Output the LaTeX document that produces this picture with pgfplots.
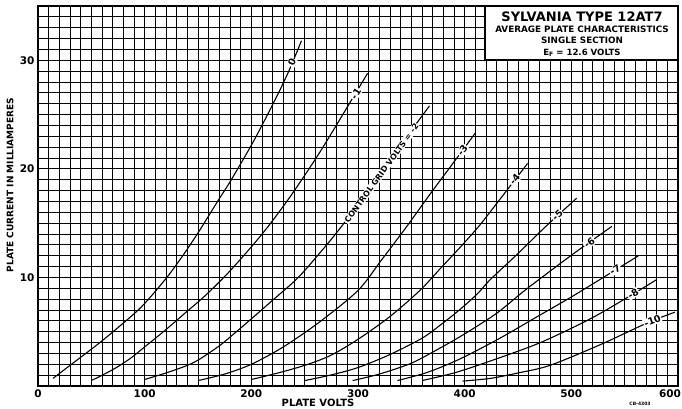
\documentclass[border=0pt]{standalone}
\usepackage{fontspec}
\setmainfont{DejaVu Sans}
\usepackage{pgfplots}
\pgfplotsset{compat=1.18}
\begin{document}
\begin{tikzpicture}
\begin{axis}[
 scale only axis, width=640pt, height=380pt,
 xmin=0,xmax=600,ymin=0,ymax=35,
 xtick={0,100,200,300,400,500,600}, ytick={10,20,30},
 xticklabels={0,100,200,300,400,500,{\makebox[0pt][r]{600\kern-3pt}}},
 minor xtick={0,10,...,600}, minor ytick={0,1,...,35},
 grid=both,
 major grid style={black,line width=0.85pt},
 minor grid style={black,line width=0.85pt},
 major tick length=0pt, minor tick length=0pt,
 axis line style={black,line width=1.2pt},
 tick label style={font=\fontsize{10.5}{11}\selectfont\bfseries},
 /pgf/number format/assume math mode=true,
 /pgf/number format/1000 sep={},
 clip=false,
]
\coordinate (bl) at (rel axis cs:0,0);
% Eg = 0
\addplot[black, line width=1.1pt, smooth] coordinates {(14,0.7)(30,1.9)(58,4.0)(86,6.3)(100,7.6)(120,9.9)(135,11.9)(150,14.1)(169,17.1)(180,18.8)(199,22.0)(211,24.2)(225,26.9)(236,29.2)(247,31.8)};
% Eg = -1
\addplot[black, line width=1.1pt, smooth] coordinates {(50,0.5)(70,1.5)(86,2.5)(100,3.6)(120,5.2)(140,6.9)(152,7.9)(164,9.0)(180,10.6)(199,12.7)(215,14.6)(234,17.1)(250,19.4)(264,21.5)(279,23.9)(290,25.7)(309,28.8)};
% Eg = -2
\addplot[black, line width=1.1pt, smooth] coordinates {(100,0.6)(120,1.2)(140,1.9)(152,2.5)(170,3.7)(180,4.5)(199,6.1)(220,7.9)(243,9.9)(262,12.0)(283,14.5)(310,18.1)(343,22.6)(367,25.8)};
% Eg = -3
\addplot[black, line width=1.1pt, smooth] coordinates {(150,0.5)(175,1.1)(200,2.0)(230,3.6)(264,5.9)(300,8.8)(322,11.6)(345,14.6)(370,18.0)(395,21.3)(410,23.3)};
% Eg = -4
\addplot[black, line width=1.1pt, smooth] coordinates {(200,0.6)(225,1.2)(250,1.9)(274,2.8)(300,4.3)(330,6.4)(358,8.8)(377,10.8)(396,12.8)(414,14.8)(437,17.7)(459,20.5)};
% Eg = -5
\addplot[black, line width=1.1pt, smooth] coordinates {(250,0.5)(274,1.0)(300,1.7)(330,2.9)(360,4.4)(377,5.6)(395,7.0)(412,8.5)(424,9.8)(450,12.2)(475,14.6)(505,17.3)};
% Eg = -6
\addplot[black, line width=1.1pt, smooth] coordinates {(295,0.5)(320,1.1)(350,2.1)(377,3.5)(400,4.8)(430,6.7)(455,8.7)(475,10.2)(505,12.4)(538,14.7)};
% Eg = -7
\addplot[black, line width=1.1pt, smooth] coordinates {(337,0.5)(360,1.1)(377,1.7)(400,2.7)(433,4.4)(470,6.5)(500,8.2)(530,10.0)(563,12.0)};
% Eg = -8
\addplot[black, line width=1.1pt, smooth] coordinates {(360,0.5)(390,1.2)(424,2.3)(471,4.0)(518,6.2)(555,8.3)(580,9.8)};
% Eg = -10
\addplot[black, line width=1.1pt, smooth] coordinates {(398,0.45)(424,0.7)(450,1.2)(480,1.9)(527,3.8)(571,5.8)(597,6.8)};

\tikzset{cl/.style={fill=white, inner sep=0.8pt, font=\fontsize{9.5}{9.5}\selectfont\bfseries}}
\node[cl, rotate=65] at (axis cs:238,29.8) {0};
\node[cl, rotate=57] at (axis cs:298,26.9) {-1};
\node[cl, rotate=54, font=\fontsize{8}{8}\selectfont\bfseries] at (axis cs:322,19.6) {CONTROL GRID VOLTS = -2};
\node[cl, rotate=53] at (axis cs:398,21.7) {-3};
\node[cl, rotate=51] at (axis cs:447,19.0) {-4};
\node[cl, rotate=43] at (axis cs:487,15.7) {-5};
\node[cl, rotate=36] at (axis cs:517,13.2) {-6};
\node[cl, rotate=32] at (axis cs:541,10.7) {-7};
\node[cl, rotate=31] at (axis cs:558,8.5) {-8};
\node[cl, rotate=21] at (axis cs:576,6.0) {-10};

\draw[fill=white, line width=1.2pt] (axis cs:419,30.1) rectangle (axis cs:600,35);
\node[font=\fontsize{13}{13}\selectfont\bfseries] at (axis cs:510,34.0) {SYLVANIA TYPE 12AT7};
\node[font=\fontsize{8.8}{9}\selectfont\bfseries] at (axis cs:510,32.85) {AVERAGE PLATE CHARACTERISTICS};
\node[font=\fontsize{8.8}{9}\selectfont\bfseries] at (axis cs:510,31.85) {SINGLE SECTION};
\node[font=\fontsize{8.6}{9}\selectfont\bfseries] at (axis cs:510,30.7) {E\raisebox{-0.8pt}{\fontsize{6}{6}\selectfont F} = 12.6 VOLTS};
\end{axis}
\node[rotate=90, font=\fontsize{9}{9}\selectfont\bfseries] at ([shift={(-28pt,201pt)}]bl) {PLATE CURRENT IN MILLIAMPERES};
\node[font=\fontsize{10}{10}\selectfont\bfseries] at ([shift={(280pt,-17pt)}]bl) {PLATE VOLTS};
\node[font=\fontsize{4.5}{5}\selectfont\bfseries] at ([shift={(602pt,-18pt)}]bl) {CB-4303};
\pgfresetboundingbox
\path (bl) ++(-38pt,-23pt) rectangle ++(682pt,409pt);
\end{tikzpicture}
\end{document}
